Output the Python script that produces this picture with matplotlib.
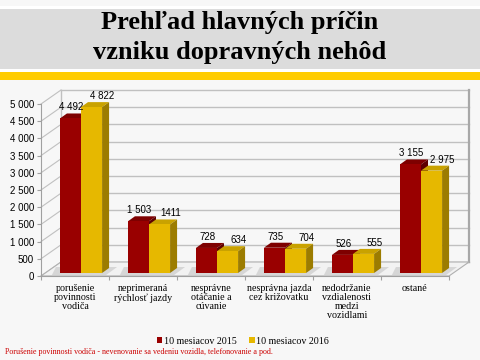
import matplotlib
matplotlib.use('Agg')
import matplotlib.pyplot as plt
from matplotlib.patches import Polygon, Rectangle
from matplotlib.transforms import ScaledTranslation, IdentityTransform
from matplotlib.lines import Line2D
import numpy as np

# ---------------- data ----------------
title_lines = ["Prehľad hlavných príčin", "vzniku dopravných nehôd"]
categories = ["porušenie\npovinnosti\nvodiča",
              "neprimeraná\nrýchlosť jazdy",
              "nesprávne\notáčanie a\ncúvanie",
              "nesprávna jazda\ncez križovatku",
              "nedodržanie\nvzdialenosti\nmedzi\nvozidlami",
              "ostané"]
series_names = ["10 mesiacov 2015", "10 mesiacov 2016"]
values_2015 = [4492, 1503, 728, 735, 526, 3155]
values_2016 = [4822, 1411, 634, 704, 555, 2975]
labels_2015 = ["4 492", "1 503", "728", "735", "526", "3 155"]
labels_2016 = ["4 822", "1411", "634", "704", "555", "2 975"]
yticks = [0, 500, 1000, 1500, 2000, 2500, 3000, 3500, 4000, 4500, 5000]
ytick_labels = ["0", "500", "1 000", "1 500", "2 000", "2 500", "3 000",
                "3 500", "4 000", "4 500", "5 000"]
footnote = "Porušenie povinnosti vodiča - nevenovanie sa vedeniu vozidla, telefonovanie a pod."

# ---------------- style ----------------
RED, RED_TOP, RED_SIDE = "#990000", "#7E0000", "#5E0000"
YEL, YEL_TOP, YEL_SIDE = "#E6B800", "#C9A200", "#9C7C00"
BG = "#F7F7F7"
GRID = "#C0C0C0"
SERIF = "Liberation Serif"
SANS = "Liberation Sans"

W, H, DPI = 480, 360, 100
fig = plt.figure(figsize=(W / DPI, H / DPI), dpi=DPI, facecolor=BG)

# header bands
fig.add_artist(Rectangle((0, 1 - 72 / H), 1, 66 / H, transform=fig.transFigure,
                         facecolor="white", edgecolor="none", zorder=0))
fig.add_artist(Rectangle((0, 1 - 69 / H), 1, 60 / H, transform=fig.transFigure,
                         facecolor="#DCDCDC", edgecolor="none", zorder=0))
fig.add_artist(Rectangle((0, 1 - 80 / H), 1, 8 / H, transform=fig.transFigure,
                         facecolor="#FFCC00", edgecolor="none", zorder=0))
fig.text(0.5, 1 - 23 / H, title_lines[0], ha="center", va="center",
         fontsize=19, fontweight="bold", family=SERIF)
fig.text(0.5, 1 - 53 / H, title_lines[1], ha="center", va="center",
         fontsize=19, fontweight="bold", family=SERIF)

# main axes = front plane of the 3D chart
ax = fig.add_axes([41 / W, (H - 276) / H, (449 - 41) / W, 172 / H])
ax.set_facecolor("none")
n = len(categories)
x = np.arange(n)
ax.set_xlim(-0.5, n - 0.5)
ax.set_ylim(0, 5000)

back = ScaledTranslation(20 / DPI, 14 / DPI, fig.dpi_scale_trans)
tback = ax.transData + back
ident = IdentityTransform()

# back wall
ax.add_patch(Polygon([(-0.5, 0), (n - 0.5, 0), (n - 0.5, 5000), (-0.5, 5000)],
                     closed=True, facecolor=BG, edgecolor="none",
                     transform=tback, clip_on=False, zorder=0.2))
for v in yticks:
    ax.plot([-0.5, n - 0.5], [v, v], color=GRID, lw=1.0, transform=tback,
            clip_on=False, zorder=0.5)
    p0 = ax.transData.transform((-0.5, v))
    p1 = tback.transform((-0.5, v))
    ax.add_line(Line2D([p0[0], p1[0]], [p0[1], p1[1]], color=GRID, lw=0.8,
                       transform=ident, clip_on=False, zorder=0.5))
ax.plot([-0.5, -0.5], [0, 5000], color=GRID, lw=1.0, transform=tback,
        clip_on=False, zorder=0.5)
ax.plot([n - 0.5, n - 0.5], [0, 5000], color="#A8A8A8", lw=1.6, transform=tback,
        clip_on=False, zorder=0.5)

# floor
f0 = ax.transData.transform((-0.5, 0))
f1 = ax.transData.transform((n - 0.5, 0))
f2 = tback.transform((n - 0.5, 0))
f3 = tback.transform((-0.5, 0))
ax.add_patch(Polygon([f0, f1, f2, f3], closed=True, facecolor="#F2F2F2",
                     edgecolor="#B0B0B0", lw=0.8, transform=ident,
                     clip_on=False, zorder=0.6))

# bars
bw = 0.31
bar_shift = ScaledTranslation(6 / DPI, 3 / DPI, fig.dpi_scale_trans)
tbar = ax.transData + bar_shift
ddx, ddy = 7, 5

def bar3d(xl, h, ct, cs, z):
    x0, y0 = tbar.transform((xl, 0))
    x1, y1 = tbar.transform((xl + bw, h))
    # floor shadow
    ax.add_patch(Polygon([(x0 - 8, y0 - 2), (x1 + 4, y0 - 2), (x1 + ddx + 8, y0 + ddy + 1),
                          (x0 - 4, y0 + ddy + 1)], closed=True, facecolor="#D6D6D6",
                         edgecolor="none", transform=ident, clip_on=False, zorder=0.7))
    ax.add_patch(Polygon([(x0, y1), (x1, y1), (x1 + ddx, y1 + ddy), (x0 + ddx, y1 + ddy)],
                         closed=True, facecolor=ct, edgecolor="none",
                         transform=ident, clip_on=False, zorder=z))
    ax.add_patch(Polygon([(x1, y0), (x1 + ddx, y0 + ddy), (x1 + ddx, y1 + ddy), (x1, y1)],
                         closed=True, facecolor=cs, edgecolor="none",
                         transform=ident, clip_on=False, zorder=z))

for i in range(n):
    bar3d(x[i] - bw, values_2015[i], RED_TOP, RED_SIDE, 3)
    bar3d(x[i], values_2016[i], YEL_TOP, YEL_SIDE, 4)

b1 = ax.bar(x - bw, values_2015, bw, align="edge", color=RED, zorder=3, clip_on=False)
b2 = ax.bar(x, values_2016, bw, align="edge", color=YEL, zorder=4, clip_on=False)
for r in list(b1) + list(b2):
    r.set_transform(tbar)

# data labels
px = 0.72
for i in range(n):
    ax.annotate(labels_2015[i], (x[i] - bw / 2, values_2015[i]),
                xytext=(7 * px, 14 * px), textcoords="offset points",
                ha="center", va="center", fontsize=7, family=SANS, zorder=6)
    ax.annotate(labels_2016[i], (x[i] + bw / 2, values_2016[i]),
                xytext=(17 * px, 14 * px), textcoords="offset points",
                ha="center", va="center", fontsize=7, family=SANS, zorder=6)

# axes styling
for s in ["top", "right"]:
    ax.spines[s].set_visible(False)
ax.spines["left"].set_color("#A0A0A0")
ax.spines["bottom"].set_color("#A0A0A0")
ax.spines["left"].set_zorder(0.8)
ax.spines["bottom"].set_zorder(0.8)
ax.set_yticks(yticks, ytick_labels)
ax.tick_params(axis="y", length=3, width=0.8, color="#A0A0A0", pad=2,
               labelsize=7)
for t in ax.get_yticklabels():
    t.set_family(SANS)
ax.set_xticks(x, categories)
ax.set_xticks(np.arange(n + 1) - 0.5, minor=True)
ax.tick_params(axis="x", which="major", length=0, pad=6, labelsize=7.2)
ax.tick_params(axis="x", which="minor", length=3, width=0.8, color="#A0A0A0")
for t in ax.get_xticklabels():
    t.set_family(SERIF)
    t.set_verticalalignment("top")
    t.set_linespacing(1.0)

# legend
handles = [Rectangle((0, 0), 1, 1, facecolor=RED, edgecolor="none"),
           Rectangle((0, 0), 1, 1, facecolor=YEL, edgecolor="none")]
fig.legend(handles, series_names, loc="center", bbox_to_anchor=(243 / W, 1 - 341 / H),
           ncol=2, frameon=False, handlelength=0.55, handleheight=0.55,
           handletextpad=0.2, columnspacing=1.2, prop={"family": SERIF, "size": 7.2})

fig.text(5 / W, 1 - 352 / H, footnote, ha="left", va="center", fontsize=5.8,
         family=SERIF, color="#CC0000")

fig.savefig("out.png", dpi=DPI, facecolor=BG)
